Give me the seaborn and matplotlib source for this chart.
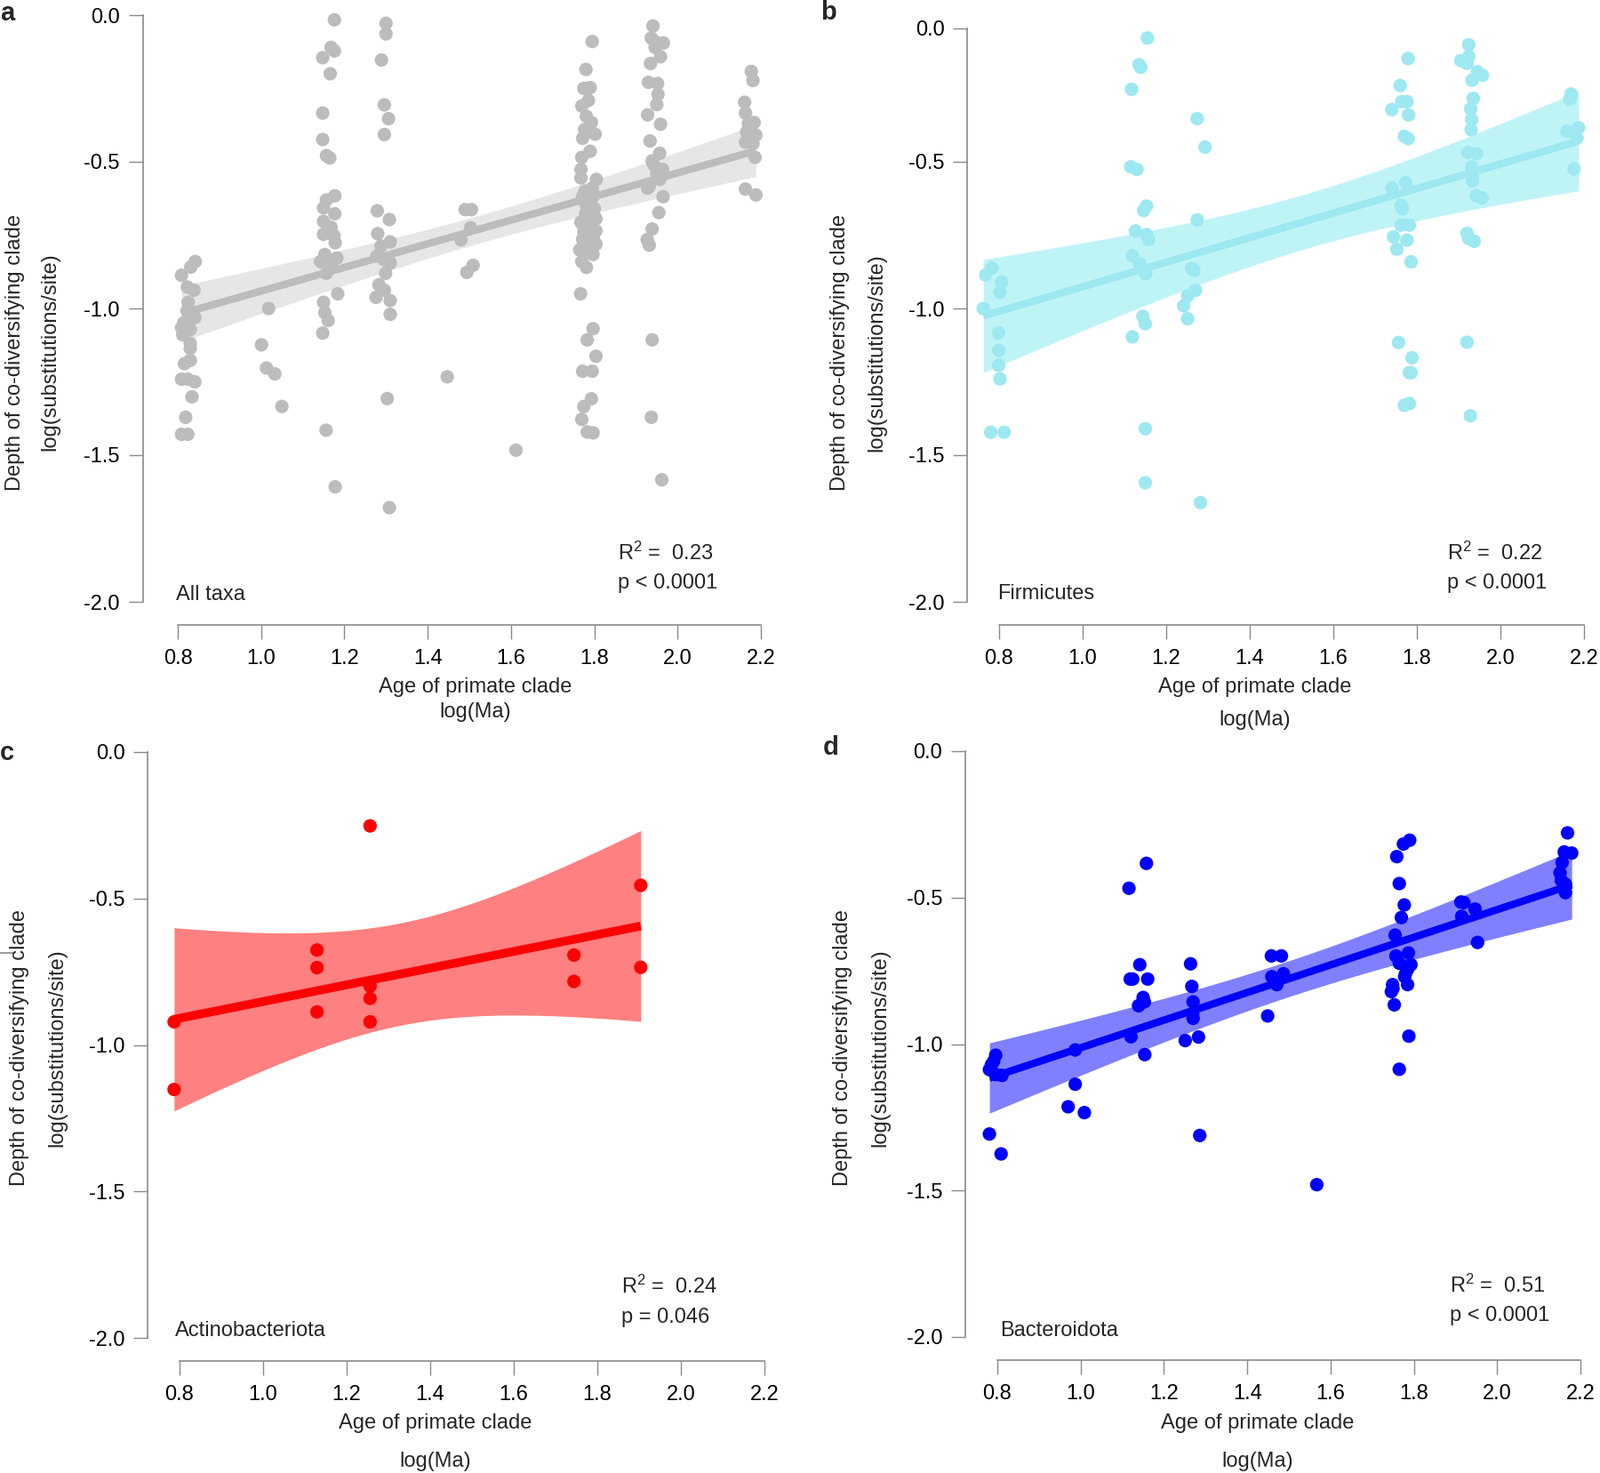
import numpy as np
import matplotlib
matplotlib.use("Agg")
import matplotlib.pyplot as plt
from matplotlib.lines import Line2D
import seaborn as sns

sns.set_style("white")
plt.rcParams['font.family'] = ['Liberation Sans', 'DejaVu Sans']
plt.rcParams['mathtext.fontset'] = 'custom'
plt.rcParams['mathtext.rm'] = 'Liberation Sans'
plt.rcParams['mathtext.default'] = 'regular'

# ---------------- data ----------------
# a: All taxa
a_x = [0.842, 0.831, 0.809, 0.823, 0.839, 0.825, 0.822, 0.841, 0.814, 0.826, 0.809, 0.830, 0.812, 0.830, 0.830,
       0.830, 0.816, 0.809, 0.824, 0.841, 0.834, 0.819, 0.809, 0.824,
       1.018, 1.001, 1.013, 1.033, 1.050,
       1.176, 1.168, 1.176, 1.148, 1.166, 1.148, 1.148, 1.157, 1.165, 1.177, 1.157, 1.150, 1.177, 1.150, 1.168,
       1.150, 1.175, 1.178, 1.153, 1.182, 1.143, 1.168, 1.157, 1.184, 1.150, 1.153, 1.161, 1.148, 1.156, 1.178,
       1.300, 1.300, 1.289, 1.296, 1.306, 1.296, 1.279, 1.308, 1.280, 1.310, 1.288, 1.278, 1.310, 1.296, 1.299,
       1.283, 1.296, 1.276, 1.310, 1.310, 1.303, 1.308,
       1.447,
       1.490, 1.505, 1.503, 1.480, 1.509, 1.494,
       1.612,
       1.795, 1.780, 1.775, 1.790, 1.786, 1.770, 1.781, 1.793, 1.777, 1.802, 1.790, 1.770, 1.768, 1.768, 1.795,
       1.800, 1.772, 1.800, 1.779, 1.768, 1.804, 1.790, 1.804, 1.772, 1.793, 1.804, 1.783, 1.797, 1.770, 1.781,
       1.767, 1.797, 1.783, 1.804, 1.772, 1.795, 1.793, 1.775, 1.770, 1.783, 1.797,
       1.785, 1.772, 1.788, 1.775, 1.798, 1.765, 1.790, 1.805,
       1.778, 1.792, 1.781, 1.799, 1.786, 1.774, 1.795, 1.783, 1.789, 1.771,
       1.941, 1.937, 1.966, 1.946, 1.959, 1.935, 1.930, 1.952, 1.953, 1.950, 1.928, 1.959, 1.934, 1.957, 1.939,
       1.964, 1.957, 1.932, 1.965, 1.955, 1.939, 1.932, 1.939, 1.937, 1.962,
       1.945, 1.928, 1.950, 1.943, 1.927,
       2.177, 2.181, 2.161, 2.163, 2.184, 2.166, 2.188, 2.163, 2.181, 2.186, 2.163, 2.188, 2.172, 2.170]
a_y = [-0.840, -0.859, -0.887, -0.927, -0.938, -0.979, -1.008, -1.031, -1.049, -1.066, -1.066, -1.072, -1.090,
       -1.119, -1.136, -1.177, -1.188, -1.241, -1.241, -1.250, -1.301, -1.371, -1.429, -1.429,
       -1.000, -1.124, -1.203, -1.223, -1.334,
       -0.016, -0.110, -0.122, -0.145, -0.200, -0.334, -0.424, -0.479, -0.487, -0.616, -0.630, -0.657, -0.677,
       -0.703, -0.723, -0.747, -0.752, -0.776, -0.816, -0.828, -0.840, -0.851, -0.880, -0.950, -0.979, -1.014,
       -1.041, -1.084, -1.415, -1.608,
       -0.028, -0.064, -0.153, -0.306, -0.353, -0.407, -0.667, -0.697, -0.745, -0.773, -0.787, -0.822, -0.845,
       -0.834, -0.880, -0.919, -0.938, -0.962, -0.973, -1.020, -1.307, -1.679,
       -1.233,
       -0.663, -0.663, -0.725, -0.766, -0.853, -0.877,
       -1.483,
       -0.090, -0.185, -0.250, -0.247, -0.291, -0.310, -0.345, -0.366, -0.390, -0.406, -0.464, -0.485, -0.526,
       -0.555, -0.590, -0.613, -0.619, -0.659, -0.677, -0.706, -0.694, -0.723, -0.735, -0.764, -0.770, -0.781,
       -0.787, -0.816, -0.840, -0.860, -0.950, -1.069, -1.107, -1.163, -1.214, -1.214, -1.308, -1.334, -1.378,
       -1.421, -1.424,
       -0.250, -0.420, -0.700, -0.740, -0.760, -0.800, -0.640, -0.560,
       -0.600, -0.630, -0.650, -0.680, -0.700, -0.720, -0.745, -0.760, -0.790, -0.805,
       -0.037, -0.078, -0.095, -0.110, -0.142, -0.165, -0.229, -0.233, -0.270, -0.305, -0.340, -0.372, -0.429,
       -0.471, -0.497, -0.526, -0.560, -0.584, -0.619, -0.673, -0.729, -0.784, -1.107, -1.371, -1.584,
       -0.090, -0.590, -0.540, -0.510, -0.765,
       -0.192, -0.223, -0.297, -0.334, -0.366, -0.398, -0.409, -0.433, -0.438, -0.485, -0.593, -0.613, -0.410,
       -0.370]

# b: Firmicutes
b_x = [0.762, 0.768, 0.783, 0.806, 0.802, 0.799, 0.799, 0.799, 0.802, 0.780, 0.812,
       1.155, 1.135, 1.139, 1.117, 1.115, 1.130, 1.153, 1.146, 1.126, 1.153, 1.158, 1.119, 1.137, 1.151, 1.144,
       1.150, 1.119, 1.150, 1.150,
       1.274, 1.293, 1.274, 1.261, 1.270, 1.251, 1.242, 1.251, 1.282, 1.266,
       1.779, 1.760, 1.740, 1.764, 1.776, 1.780, 1.770, 1.779, 1.740, 1.773, 1.762, 1.765, 1.762, 1.782, 1.744,
       1.776, 1.752, 1.786, 1.756, 1.788, 1.782, 1.786, 1.770, 1.782,
       1.924, 1.924, 1.905, 1.920, 1.945, 1.957, 1.932, 1.935, 1.929, 1.931, 1.930, 1.922, 1.943, 1.931, 1.933,
       1.933, 1.942, 1.956, 1.920, 1.924, 1.937, 1.920, 1.928,
       2.169, 2.166, 2.159, 2.187, 2.183, 2.176]
b_y = [-1.000, -0.886, -0.862, -0.910, -0.946, -1.083, -1.143, -1.194, -1.240, -1.422, -1.422,
       -0.078, -0.169, -0.178, -0.253, -0.517, -0.526, -0.651, -0.666, -0.736, -0.748, -0.765, -0.820, -0.849,
       -0.881, -1.027, -1.052, -1.097, -1.410, -1.594,
       -0.353, -0.450, -0.698, -0.863, -0.938, -0.957, -0.991, -1.035, -1.662, -0.870,
       -0.148, -0.240, -0.322, -0.295, -0.295, -0.340, -0.413, -0.421, -0.589, -0.571, -0.648, -0.660, -0.716,
       -0.716, -0.756, -0.767, -0.798, -0.841, -1.116, -1.168, -1.219, -1.219, -1.330, -1.324,
       -0.101, -0.141, -0.155, -0.164, -0.193, -0.205, -0.222, -0.284, -0.319, -0.356, -0.391, -0.468, -0.472,
       -0.518, -0.541, -0.565, -0.615, -0.623, -0.744, -0.762, -0.771, -1.115, -1.366,
       -0.269, -0.286, -0.396, -0.384, -0.419, -0.524]

# c: Actinobacteriota
c_x = [0.787, 0.787, 1.129, 1.129, 1.129, 1.256, 1.256, 1.256, 1.256, 1.744, 1.744, 1.904, 1.904]
c_y = [-0.921, -1.152, -0.676, -0.736, -0.887, -0.252, -0.799, -0.841, -0.921, -0.693, -0.783, -0.455, -0.735]

# d: Bacteroidota
d_x = [0.796, 0.791, 0.781, 0.796, 0.811, 0.781, 0.809, 0.786,
       0.987, 0.987, 0.970, 1.009,
       1.158, 1.116, 1.142, 1.125, 1.119, 1.161, 1.150, 1.153, 1.139, 1.121, 1.154,
       1.264, 1.267, 1.270, 1.270, 1.269, 1.251, 1.283, 1.286,
       1.458, 1.482, 1.459, 1.487, 1.471, 1.449,
       1.567,
       1.790, 1.775, 1.759, 1.765, 1.777, 1.770, 1.755, 1.757, 1.787, 1.765, 1.793, 1.785, 1.778, 1.749, 1.785,
       1.746, 1.753, 1.788, 1.765, 1.780, 1.750,
       1.913, 1.920, 1.915, 1.947, 1.953,
       2.169, 2.161, 2.179, 2.156, 2.151, 2.154, 2.164, 2.164]
d_y = [-1.038, -1.059, -1.087, -1.104, -1.107, -1.307, -1.375, -1.070,
       -1.020, -1.137, -1.214, -1.234,
       -0.383, -0.468, -0.729, -0.778, -0.778, -0.778, -0.841, -0.856, -0.869, -0.975, -1.036,
       -0.726, -0.803, -0.856, -0.912, -0.897, -0.988, -0.976, -1.312,
       -0.699, -0.699, -0.770, -0.760, -0.797, -0.904,
       -1.480,
       -0.304, -0.317, -0.360, -0.452, -0.525, -0.568, -0.628, -0.699, -0.689, -0.724, -0.729, -0.745, -0.770,
       -0.797, -0.797, -0.821, -0.866, -0.973, -1.086, -0.760, -0.810,
       -0.515, -0.517, -0.564, -0.539, -0.653,
       -0.279, -0.344, -0.348, -0.380, -0.415, -0.441, -0.454, -0.483]

x_ticks = [0.8, 1.0, 1.2, 1.4, 1.6, 1.8, 2.0, 2.2]
x_tick_labels = ["0.8", "1.0", "1.2", "1.4", "1.6", "1.8", "2.0", "2.2"]
y_ticks = [0.0, -0.5, -1.0, -1.5, -2.0]
y_ticks_b = [-0.045, -0.5, -1.0, -1.5, -2.0]
y_tick_labels = ["0.0", "-0.5", "-1.0", "-1.5", "-2.0"]

panel_names = ["All taxa", "Firmicutes", "Actinobacteriota", "Bacteroidota"]
r2_labels = ["0.23", "0.22", "0.24", "0.51"]
p_labels = ["p < 0.0001", "p < 0.0001", "p = 0.046", "p < 0.0001"]

# ---------------- figure ----------------
W, H = 1800, 1657
fig = plt.figure(figsize=(18, 16.57), dpi=100)
fig.patch.set_facecolor("white")

AX_COL = "#8a8a8a"
FS = 17


def fx(px):
    return px / W


def fy(py):
    return 1 - py / H


def t_quant(df, z):
    # Cornish-Fisher expansion of the Student t quantile
    return (z + (z**3 + z) / (4 * df) + (5 * z**5 + 16 * z**3 + 3 * z) / (96 * df**2)
            + (3 * z**7 + 19 * z**5 + 17 * z**3 - 15 * z) / (384 * df**3))


def panel(x, y, geom, spine_x, pt_col, band_col, lw, yt, zq):
    x08, x22, y0, ym2 = geom
    xpu = (x22 - x08) / 1.4
    ypu = (ym2 - y0) / 2.0
    xl = (0.68, 2.26)
    yl = (-2.12, 0.05)
    left = x08 - (0.8 - xl[0]) * xpu
    width = (xl[1] - xl[0]) * xpu
    top = y0 - yl[1] * ypu
    height = (yl[1] - yl[0]) * ypu
    ax = fig.add_axes([fx(left), fy(top + height), width / W, height / H])
    ax.patch.set_visible(False)
    x = np.asarray(x)
    y = np.asarray(y)
    sns.regplot(x=x, y=y, ax=ax, ci=None, truncate=True, color=pt_col,
                scatter_kws=dict(s=120, alpha=1, edgecolors="none", linewidths=0),
                line_kws=dict(lw=lw, color=pt_col, solid_capstyle="butt"))
    ax.collections[0].set_zorder(2)
    ax.lines[0].set_zorder(3)
    # analytic confidence band of the linear fit
    n = len(x)
    slope, icpt = np.polyfit(x, y, 1)
    xs = np.linspace(x.min(), x.max(), 200)
    yh = icpt + slope * xs
    res = y - (icpt + slope * x)
    s = np.sqrt(np.sum(res**2) / (n - 2))
    sxx = np.sum((x - x.mean())**2)
    se = s * np.sqrt(1.0 / n + (xs - x.mean())**2 / sxx)
    tq = t_quant(n - 2, zq)
    ax.fill_between(xs, yh - tq * se, yh + tq * se, color=band_col, lw=0, zorder=1)

    ax.set_xlim(xl)
    ax.set_ylim(yl)
    for sp in ["top", "right"]:
        ax.spines[sp].set_visible(False)
    ax.spines["left"].set_position(("data", spine_x))
    ax.spines["bottom"].set_position(("data", -2.08))
    ax.spines["left"].set_bounds(-2.0, yt[0])
    ax.spines["bottom"].set_bounds(0.8, 2.2)
    for sp in ["left", "bottom"]:
        ax.spines[sp].set_color(AX_COL)
        ax.spines[sp].set_linewidth(1.2)
    ax.set_xticks(x_ticks)
    ax.set_xticklabels(x_tick_labels)
    ax.set_yticks(yt)
    ax.set_yticklabels(y_tick_labels)
    ax.tick_params(axis="both", which="major", bottom=True, left=True, top=False, right=False,
                   direction="out", length=11.5, width=1.0, color=AX_COL,
                   labelsize=FS, labelcolor="black")
    ax.tick_params(axis="x", pad=8)
    ax.tick_params(axis="y", pad=7)
    ax.set_xlabel("")
    ax.set_ylabel("")
    ax.grid(False)
    return ax


geoms = [(200, 856, 17, 677), (1124, 1782, 17, 677), (202, 860, 846, 1505), (1122, 1778, 845, 1504)]
spine_xs = [0.716, 0.724, 0.724, 0.723]
pt_cols = ["#bcbcbc", "#9de8f1", "#ff0000", "#0000ff"]
band_cols = ["#e6e6e6", "#bff4f7", "#ff8080", "#8080ff"]
lws = [6, 6, 7, 6]
zqs = [1.959964, 2.575829, 2.575829, 2.575829]
datas = [(a_x, a_y), (b_x, b_y), (c_x, c_y), (d_x, d_y)]
yts = [y_ticks, y_ticks_b, y_ticks, y_ticks]

for i in range(4):
    panel(datas[i][0], datas[i][1], geoms[i], spine_xs[i], pt_cols[i], band_cols[i], lws[i], yts[i], zqs[i])

# ---------------- texts ----------------
letters = [("a", 0, 15), ("b", 923, 14), ("c", 0, 847), ("d", 926, 841)]
for t, px, py in letters:
    fig.text(fx(px), fy(py), t, fontsize=21, fontweight="bold", ha="left", va="center")

ylab_pos = [(17, 56, 396), (945, 986, 397), (22, 64, 1179), (948, 990, 1179)]
for x1, x2, yc in ylab_pos:
    fig.text(fx(x1), fy(yc), "Depth of co-diversifying clade", rotation=90, fontsize=FS,
             ha="center", va="center")
    fig.text(fx(x2), fy(yc), "log(substitutions/site)", rotation=90, fontsize=FS,
             ha="center", va="center")

xlab_pos = [(535, 773, 801), (1412, 773, 810), (490, 1601, 1644), (1415, 1601, 1644)]
for xc, y1, y2 in xlab_pos:
    fig.text(fx(xc), fy(y1), "Age of primate clade", fontsize=FS, ha="center", va="center")
    fig.text(fx(xc), fy(y2), "log(Ma)", fontsize=FS, ha="center", va="center")

name_pos = [(198, 669), (1122, 668), (197, 1497), (1125, 1497)]
for (px, py), nm in zip(name_pos, panel_names):
    fig.text(fx(px), fy(py), nm, fontsize=FS, ha="left", va="center")

stat_pos = [(695, 622, 656), (1628, 622, 656), (699, 1447, 1482), (1631, 1446, 1480)]
for (px, y1, y2), r2, pl in zip(stat_pos, r2_labels, p_labels):
    fig.text(fx(px), fy(y1), r"R$^{2}$ =  " + r2, fontsize=FS, ha="left", va="center")
    fig.text(fx(px), fy(y2), pl, fontsize=FS, ha="left", va="center")

# small stray tick at the left edge of panel c
fig.add_artist(Line2D([fx(0), fx(16)], [fy(1072), fy(1072)], color=AX_COL, lw=1.2))

fig.savefig("out.png", dpi=100, facecolor="white")
